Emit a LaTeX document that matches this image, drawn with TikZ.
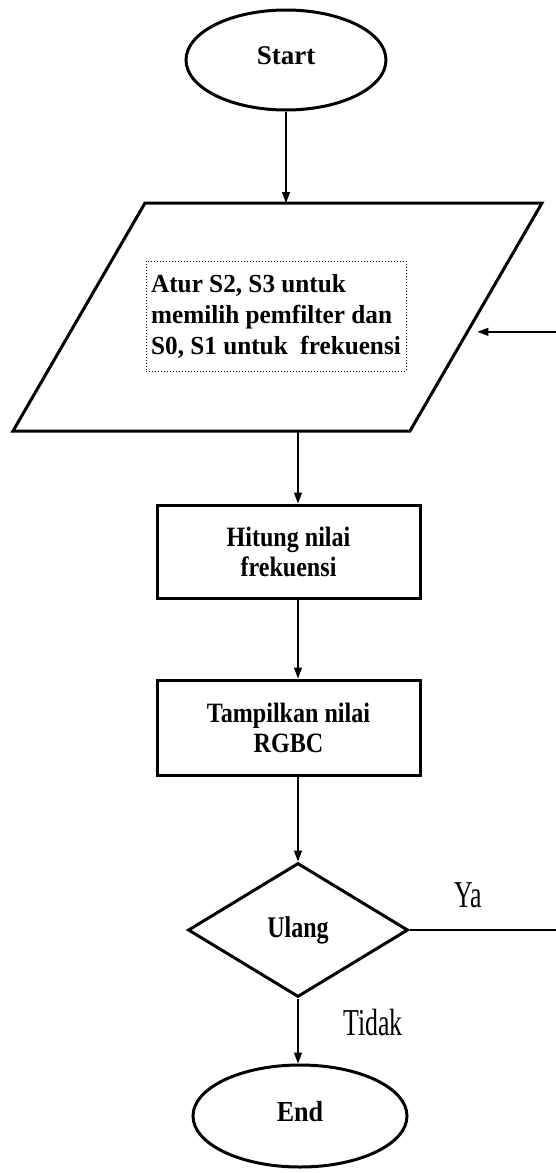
\documentclass[tikz,border=0pt]{standalone}
\usepackage{fontspec}
\setmainfont{Liberation Serif}
\usetikzlibrary{shapes.geometric,arrows.meta,calc}

% size, baseline skip, horizontal stretch
\newcommand\flowfont[3]{\fontsize{#1}{#2}\selectfont\addfontfeature{FakeStretch=#3}}

\tikzset{
  outline/.style={draw, line width=3pt, line join=miter},
  terminal/.style={outline, ellipse, inner sep=0pt},
  process/.style={outline, rectangle, minimum width=263pt, align=center,
    font=\bfseries\flowfont{28}{30}{0.86}},
  decision/.style={outline, diamond, minimum width=220pt, minimum height=134pt, inner sep=0pt},
  flow/.style={line width=1.5pt, -{Triangle[length=11pt,width=8pt]}},
  answer/.style={font=\flowfont{38}{40}{0.68}, inner sep=0pt},
}

\begin{document}
\begin{tikzpicture}[x=1pt, y=-1pt]
  \useasboundingbox (0,0) rectangle (556,1173);

  % start terminal
  \node[terminal, minimum width=200pt, minimum height=100pt,
        font=\bfseries\flowfont{27}{29}{1}] (start) at (286,60) {\raisebox{8pt}{Start}};

  % input step: parallelogram with its dotted text frame
  \coordinate (pTL) at (145,203);
  \coordinate (pTR) at (542,203);
  \coordinate (pBR) at (410,431);
  \coordinate (pBL) at (13,431);
  \draw[outline] (pTL) -- (pTR) -- (pBR) -- (pBL) -- cycle;
  \node[draw, dotted, line width=1pt, rectangle, minimum width=260pt, inner sep=4pt,
        minimum height=110pt, align=left,
        font=\bfseries\flowfont{26}{31}{0.97}] (parlabel) at (276,316)
        {Atur S2, S3 untuk\\memilih pemfilter dan\\S0, S1 untuk\ \ frekuensi};

  % processing steps, decision and end terminal
  \node[process, minimum height=93pt] (hitung) at (288.5,551.5) {Hitung nilai\\frekuensi};
  \node[process, minimum height=95pt] (tampil) at (288.5,727.5) {Tampilkan nilai\\RGBC};
  \node[decision, font=\bfseries\flowfont{30}{32}{0.8}] (dec) at (298,930) {Ulang};
  \node[terminal, minimum width=214pt, minimum height=102pt,
        font=\bfseries\flowfont{29}{31}{0.9}] (end) at (300,1116) {\raisebox{9pt}{End}};

  % branch labels
  \node[answer] (ya) at (468,895) {Ya};
  \node[answer] (tidak) at (373,1022) {Tidak};

  % main flow
  \draw[flow] (start) -- (start |- pTL);
  \draw[flow] (dec.north |- pBL) -- (hitung.north -| dec.north);
  \draw[flow] (hitung.south -| dec.north) -- (tampil.north -| dec.north);
  \draw[flow] (tampil.south -| dec.north) -- (dec.north);
  \draw[flow] (dec.south) -- (dec.south |- end.north);

  % loop back to the input step
  \coordinate (loopx) at (562,0);
  \coordinate (entry) at ($(pTR)!0.565!(pBR)$);
  \draw[flow, shorten >=10pt] (dec.east) -- (dec.east -| loopx) -- (loopx |- entry) -- (entry);
\end{tikzpicture}
\end{document}
